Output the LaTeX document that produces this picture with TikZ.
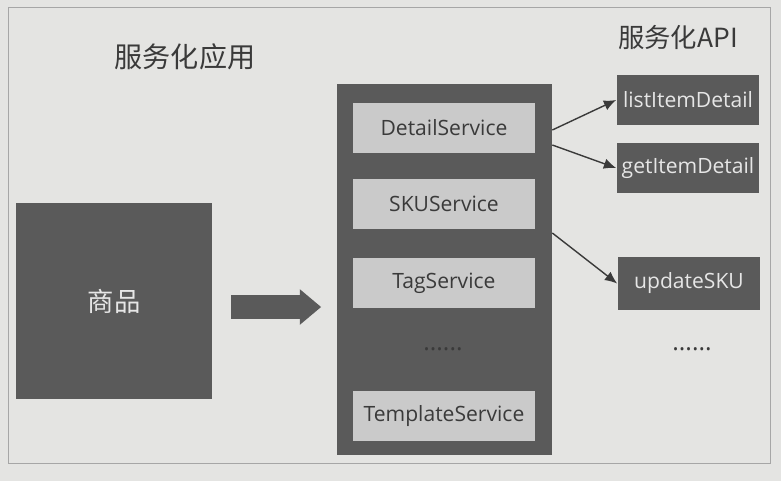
\documentclass[tikz,border=0pt]{standalone}
\usepackage{fontspec}
\setmainfont{Open Sans}
\newfontfamily\cjk{Noto Sans CJK SC}
\usepackage{tikz}
\usetikzlibrary{shapes.arrows, arrows.meta, calc, positioning}
\definecolor{paper}{HTML}{E4E4E2}
\definecolor{slate}{HTML}{5A5A5A}
\definecolor{pale}{HTML}{CACACA}
\definecolor{ink}{HTML}{3A3A3A}
\definecolor{chalk}{HTML}{E6E6E6}
\tikzstyle{component} = [rectangle, fill=slate, text=chalk, inner sep=0pt]
\tikzstyle{service} = [rectangle, fill=pale, text=ink, inner sep=0pt,
    minimum width=3.64cm, minimum height=1cm, font=\fontsize{12}{14}\selectfont]
\tikzstyle{line} = [draw=ink, thick, -{Latex[length=7pt, width=6pt]}]

\begin{document}
\begin{tikzpicture}[x=0.02cm, y=-0.02cm,
    apiWidth/.style={minimum width=2.86cm},
    apiHeight/.style={minimum height=1cm},
    title/.style={text=ink, font=\cjk\fontsize{16}{18}\selectfont},
    ellipsis/.style={text=ink, font=\fontsize{14}{16}\selectfont}
    ]

    \fill[paper] (0,0) rectangle (781,481);
    \useasboundingbox (0,0) rectangle (781,481);
    \draw[gray!70] (8,7) rectangle (770,463);

    % left side
    \node[title] (apptitle) at (185,57) {服务化应用};
    \node[component, minimum width=3.92cm, minimum height=3.94cm,
          font=\cjk\fontsize{15}{17}\selectfont] (goods) at (114,301) {商品};
    \node[single arrow, fill=slate, inner sep=0.23cm, minimum height=1.8cm,
          single arrow head extend=0.12cm, single arrow tip angle=80,
          single arrow head indent=0pt] (flow) at (269,307) {};

    % service container
    \node[component, minimum width=4.3cm, minimum height=7.42cm] (app) at (444.5,269.5) {};
    \node[service] (detail) at (444,128) {DetailService};
    \node[service, below=0.5cm of detail] (sku) {SKUService};
    \node[service, below=0.58cm of sku] (tag) {TagService};
    \node[ellipsis] (moresvc) at (443,349) {......};
    \node[service] (template) at (444,416) {TemplateService};

    % api side
    \node[title, font=\cjk\fontsize{15}{17}\selectfont] (apititle) at (678,37) {服务化API};
    \node[component, apiWidth, apiHeight, font=\fontsize{12}{14}\selectfont] (list) at (688,100) {listItemDetail};
    \node[component, apiWidth, apiHeight, font=\fontsize{12}{14}\selectfont] (get) at (688,168) {getItemDetail};
    \node[component, apiWidth, minimum height=1.06cm, font=\fontsize{12}{14}\selectfont] (update) at (689,283.5) {updateSKU};
    \node[ellipsis] (moreapi) at (692,349) {......};

    \coordinate (out1) at (app.east |- 0,130);
    \coordinate (out2) at (app.east |- 0,145);
    \coordinate (out3) at (app.east |- 0,233);

    \draw[line] (out1) -- (list.west);
    \draw[line] (out2) -- (get.west);
    \draw[line] (out3) -- (update.west);
\end{tikzpicture}
\end{document}
